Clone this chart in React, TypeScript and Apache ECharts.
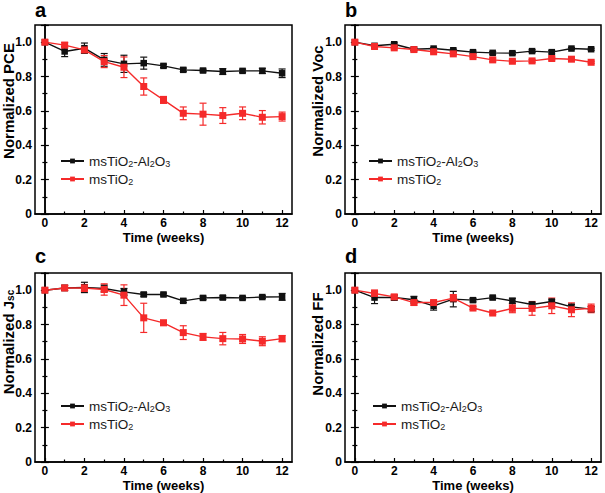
import React, { useEffect, useRef } from "react";
import * as echarts from "echarts";

const weeks = [0, 1, 2, 3, 4, 5, 6, 7, 8, 9, 10, 11, 12];

const pceAl = [1.0, 0.946, 0.965, 0.897, 0.874, 0.878, 0.862, 0.839, 0.835, 0.829, 0.833, 0.833, 0.819];
const pceAlErr = [0, 0.03, 0.03, 0.037, 0.05, 0.035, 0.01, 0.01, 0.008, 0.017, 0.01, 0.015, 0.025];
const pceTi = [1.0, 0.983, 0.955, 0.887, 0.854, 0.742, 0.664, 0.586, 0.581, 0.573, 0.586, 0.563, 0.567];
const pceTiErr = [0, 0.015, 0.015, 0.035, 0.06, 0.05, 0.02, 0.037, 0.064, 0.046, 0.037, 0.039, 0.026];

const vocAl = [1.0, 0.979, 0.988, 0.959, 0.963, 0.953, 0.942, 0.938, 0.936, 0.948, 0.942, 0.963, 0.959];
const vocAlErr = [0, 0.008, 0.008, 0.006, 0.006, 0.006, 0.006, 0.008, 0.008, 0.008, 0.01, 0.006, 0.006];
const vocTi = [1.0, 0.975, 0.967, 0.957, 0.944, 0.932, 0.916, 0.897, 0.889, 0.891, 0.905, 0.901, 0.883];
const vocTiErr = [0, 0.006, 0.006, 0.006, 0.006, 0.006, 0.006, 0.01, 0.008, 0.008, 0.008, 0.006, 0.006];

const jscAl = [1.0, 1.013, 1.016, 1.01, 0.99, 0.975, 0.975, 0.938, 0.955, 0.957, 0.955, 0.96, 0.961];
const jscAlErr = [0, 0.015, 0.03, 0.02, 0.02, 0.01, 0.008, 0.01, 0.01, 0.01, 0.008, 0.008, 0.02];
const jscTi = [1.0, 1.013, 1.013, 1.004, 0.971, 0.839, 0.81, 0.753, 0.728, 0.718, 0.716, 0.703, 0.718];
const jscTiErr = [0, 0.015, 0.02, 0.033, 0.06, 0.085, 0.015, 0.04, 0.02, 0.036, 0.026, 0.026, 0.018];

const ffAl = [1.0, 0.957, 0.957, 0.944, 0.909, 0.948, 0.942, 0.957, 0.938, 0.917, 0.934, 0.903, 0.89];
const ffAlErr = [0, 0.035, 0.015, 0.02, 0.025, 0.045, 0.01, 0.008, 0.015, 0.01, 0.01, 0.015, 0.015];
const ffTi = [1.0, 0.981, 0.961, 0.928, 0.928, 0.954, 0.896, 0.867, 0.894, 0.894, 0.909, 0.886, 0.894];
const ffTiErr = [0, 0.02, 0.01, 0.015, 0.01, 0.02, 0.008, 0.008, 0.025, 0.04, 0.045, 0.04, 0.025];

const majorX = [0, 2, 4, 6, 8, 10, 12];
const minorX = [1, 3, 5, 7, 9, 11];

const NAME_AL = "msTiO2-Al2O3";
const NAME_TI = "msTiO2";
const BLACK = "#111111";
const RED = "#f52a2a";
const FONT = 'Arial, "Liberation Sans", Helvetica, sans-serif';

const panels = [
  { letter: "a", title: "Normalized PCE", al: pceAl, alErr: pceAlErr, ti: pceTi, tiErr: pceTiErr },
  { letter: "b", title: "Normalized Voc", al: vocAl, alErr: vocAlErr, ti: vocTi, tiErr: vocTiErr },
  { letter: "c", title: "Normalized J{s|sc}", al: jscAl, alErr: jscAlErr, ti: jscTi, tiErr: jscTiErr },
  { letter: "d", title: "Normalized FF", al: ffAl, alErr: ffAlErr, ti: ffTi, tiErr: ffTiErr },
];

const layout = [
  { left: 35, top: 25, width: 257, height: 189, letterX: 35, letterY: 10, titleX: 8, titleY: 101, legX: 60, legY: 154 },
  { left: 345, top: 25, width: 256, height: 189, letterX: 345, letterY: 10, titleX: 317.5, titleY: 101, legX: 368, legY: 154 },
  { left: 35, top: 273, width: 257, height: 189, letterX: 35, letterY: 256, titleX: 8, titleY: 342, legX: 60, legY: 399 },
  { left: 345, top: 273, width: 256, height: 189, letterX: 345, letterY: 256, titleX: 317.5, titleY: 344, legX: 372, legY: 399 },
];

function errRender(color: string) {
  return (params: any, api: any) => {
    const x = api.value(0);
    const y = api.value(1);
    const e = api.value(2);
    if (!e) return null;
    const t = api.coord([x, y + e]);
    const b = api.coord([x, y - e]);
    const w = 3.5;
    const st = { stroke: color, lineWidth: 1.2 };
    return {
      type: "group",
      children: [
        { type: "line", shape: { x1: t[0], y1: t[1], x2: b[0], y2: b[1] }, style: st },
        { type: "line", shape: { x1: t[0] - w, y1: t[1], x2: t[0] + w, y2: t[1] }, style: st },
        { type: "line", shape: { x1: b[0] - w, y1: b[1], x2: b[0] + w, y2: b[1] }, style: st },
      ],
    };
  };
}

export default function App() {
  const ref = useRef<HTMLDivElement>(null);
  useEffect(() => {
    if (!ref.current) return;
    const chart = echarts.init(ref.current, null, { renderer: "svg" });
    const grids: any[] = [];
    const xAxes: any[] = [];
    const yAxes: any[] = [];
    const series: any[] = [];
    const legends: any[] = [];
    const graphics: any[] = [];
    const axisLineStyle = { color: "#000", width: 1.5 };

    panels.forEach((p, g) => {
      const L = layout[g];
      grids.push({
        left: L.left, top: L.top, width: L.width, height: L.height,
        show: true, borderColor: "#000", borderWidth: 1.5, backgroundColor: "transparent",
      });
      xAxes.push({
        type: "value", gridIndex: g, min: -0.5, max: 12.5, position: "bottom",
        name: "Time (weeks)", nameLocation: "middle", nameGap: 17,
        nameTextStyle: { fontFamily: FONT, fontWeight: "bold", fontSize: 13, color: "#000" },
        axisLine: { show: true, lineStyle: axisLineStyle },
        axisTick: { show: true, inside: true, length: 4, customValues: majorX, lineStyle: { color: "#000", width: 1.2 } },
        axisLabel: { show: true, customValues: majorX, margin: 3, fontFamily: FONT, fontWeight: "bold", fontSize: 12, color: "#000" },
        splitLine: { show: false },
      });
      xAxes.push({
        type: "value", gridIndex: g, min: -0.5, max: 12.5, position: "bottom",
        axisLine: { show: false },
        axisTick: { show: true, inside: true, length: 2.5, customValues: minorX, lineStyle: { color: "#000", width: 1.2 } },
        axisLabel: { show: false },
        splitLine: { show: false },
      });
      yAxes.push({
        type: "value", gridIndex: g, min: 0, max: 1.1, interval: 0.2, position: "left",
        axisLine: { show: true, lineStyle: axisLineStyle },
        axisTick: { show: true, inside: true, length: 4, lineStyle: { color: "#000", width: 1.2 } },
        minorTick: { show: true, splitNumber: 2, length: 2.5, lineStyle: { color: "#000", width: 1.2 } },
        axisLabel: {
          margin: 3, fontFamily: FONT, fontWeight: "bold", fontSize: 12, color: "#000",
          formatter: (v: number) => (v > 1.05 ? "" : v === 0 ? "0" : v.toFixed(1)),
        },
        splitLine: { show: false },
      });
      yAxes.push({
        type: "value", gridIndex: g, min: 0, max: 1.1, interval: 0.2, position: "right",
        axisLine: { show: true, lineStyle: axisLineStyle },
        axisTick: { show: true, inside: true, length: 4, lineStyle: { color: "#000", width: 1.2 } },
        minorTick: { show: true, splitNumber: 2, length: 2.5, lineStyle: { color: "#000", width: 1.2 } },
        axisLabel: { show: false },
        splitLine: { show: false },
      });
      const xi = 2 * g;
      const yi = 2 * g;
      series.push({
        type: "custom", name: "errAl" + g, xAxisIndex: xi, yAxisIndex: yi,
        renderItem: errRender(BLACK), z: 3,
        data: weeks.map((w, i) => [w, p.al[i], p.alErr[i]]),
      });
      series.push({
        type: "custom", name: "errTi" + g, xAxisIndex: xi, yAxisIndex: yi,
        renderItem: errRender(RED), z: 3,
        data: weeks.map((w, i) => [w, p.ti[i], p.tiErr[i]]),
      });
      series.push({
        type: "line", name: NAME_AL, xAxisIndex: xi, yAxisIndex: yi, z: 4,
        symbol: "rect", symbolSize: 6.5, showSymbol: true,
        lineStyle: { color: BLACK, width: 1.4 }, itemStyle: { color: BLACK },
        data: weeks.map((w, i) => [w, p.al[i]]),
      });
      series.push({
        type: "line", name: NAME_TI, xAxisIndex: xi, yAxisIndex: yi, z: 5,
        symbol: "rect", symbolSize: 7, showSymbol: true,
        lineStyle: { color: RED, width: 1.4 }, itemStyle: { color: RED },
        data: weeks.map((w, i) => [w, p.ti[i]]),
      });
      legends.push({
        data: [NAME_AL, NAME_TI], left: L.legX, top: L.legY, orient: "vertical",
        itemWidth: 23, itemHeight: 6, itemGap: 4, selectedMode: false, padding: 0,
        formatter: (name: string) => (name === NAME_TI ? "msTiO{s|2}" : "msTiO{s|2}-Al{s|2}O{s|3}"),
        textStyle: {
          fontFamily: FONT, fontSize: 13.5, color: "#1a1a1a",
          rich: { s: { fontFamily: FONT, fontSize: 9, color: "#1a1a1a", verticalAlign: "bottom", lineHeight: 6 } },
        },
      });
      graphics.push({
        type: "text", x: L.letterX, y: L.letterY,
        style: { text: p.letter, font: `bold 20px ${FONT}`, fill: "#000", textAlign: "left", textVerticalAlign: "middle" },
      });
      graphics.push({
        type: "text", x: L.titleX, y: L.titleY, rotation: Math.PI / 2,
        style: {
          text: p.title, font: `bold 15px ${FONT}`, fill: "#000", textAlign: "center", textVerticalAlign: "middle",
          rich: { s: { font: `bold 10px ${FONT}`, fill: "#000", verticalAlign: "bottom", lineHeight: 6 } },
        },
      });
    });

    chart.setOption({
      animation: false,
      backgroundColor: "#ffffff",
      grid: grids,
      xAxis: xAxes,
      yAxis: yAxes,
      legend: legends,
      series,
      graphic: graphics,
    });
    return () => chart.dispose();
  }, []);
  return (
    <div
      ref={ref}
      style={{ position: "fixed", left: 0, top: 0, width: 605, height: 493, background: "#fff" }}
    />
  );
}
